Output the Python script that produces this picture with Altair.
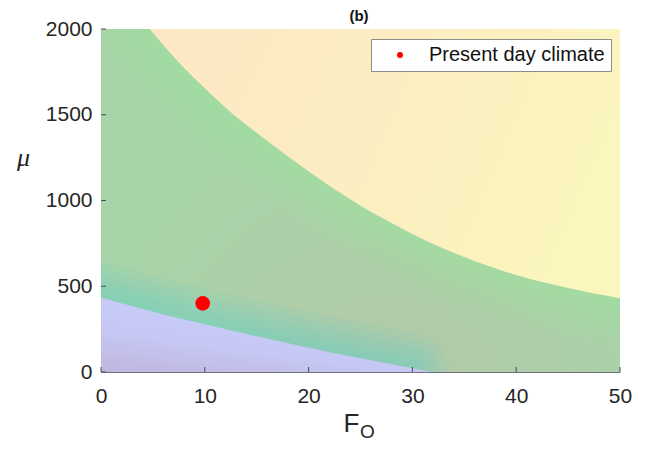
import altair as alt
import pandas as pd

# ---- data ----
x_ticks = [0, 10, 20, 30, 40, 50]
y_ticks = [0, 500, 1000, 1500, 2000]
F_range = [0, 50]
mu_range = [0, 2000]

# upper boundary (green / yellow)
upper_F = [4.7, 7.5, 10, 12.5, 15, 17.5, 20, 22.5, 25, 27.5, 30, 35, 40, 45, 50]
upper_mu = [2000, 1805, 1655, 1515, 1395, 1280, 1170, 1065, 970, 885, 805, 670, 565, 490, 430]

# lower boundary (blue / green)
lower_F = [0, 5, 10, 15, 20, 25, 30, 31.8]
lower_mu = [434, 352, 278, 208, 142, 80, 22, 0]

# present-day climate point
point_F = [9.8]
point_mu = [400]
point_label = ["Present day climate"]

FONT = "Liberation Sans"

xs = alt.Scale(domain=F_range, nice=False, zero=False)
ys = alt.Scale(domain=mu_range, nice=False, zero=False)

bg = pd.DataFrame({"x0": [F_range[0]], "x1": [F_range[1]], "y0": [mu_range[0]], "y1": [mu_range[1]]})
up = pd.DataFrame({"F": upper_F, "mu": upper_mu, "top": [mu_range[1]] * len(upper_F)})
lo = pd.DataFrame({"F": lower_F, "mu": lower_mu, "bot": [mu_range[0]] * len(lower_F)})
pt = pd.DataFrame({"F": point_F, "mu": point_mu, "label": point_label})
xt = pd.DataFrame({"t": x_ticks})
yt = pd.DataFrame({"t": y_ticks})
sub_txt = pd.DataFrame({"s": ["O"]})
ttl_txt = pd.DataFrame({"s": ["(b)"]})

green_grad = alt.Gradient(
    gradient="radial",
    stops=[
        alt.GradientStop(color="#b3c8a7", offset=0),
        alt.GradientStop(color="#afcda9", offset=0.45),
        alt.GradientStop(color="#aad2a9", offset=0.8),
        alt.GradientStop(color="#a7d4a8", offset=1),
    ],
    x1=0.55, y1=0.92, r1=0, x2=0.55, y2=0.92, r2=0.62,
)
yellow_grad = alt.Gradient(
    gradient="linear",
    stops=[
        alt.GradientStop(color="#fde7c4", offset=0),
        alt.GradientStop(color="#fcedc2", offset=0.5),
        alt.GradientStop(color="#fbf5be", offset=1),
    ],
    x1=0, y1=0, x2=1, y2=0.25,
)
blue_grad = alt.Gradient(
    gradient="linear",
    stops=[
        alt.GradientStop(color="#c9cdfa", offset=0),
        alt.GradientStop(color="#c6c7f4", offset=0.6),
        alt.GradientStop(color="#bfb6dc", offset=1),
    ],
    x1=0.6, y1=0, x2=0, y2=1,
)

x_axis = alt.Axis(
    values=x_ticks, format="d", ticks=False, grid=False, labelFontSize=21, labelFont=FONT,
    labelColor="#262626", labelPadding=13, domainColor="#6f6f80", domainWidth=1,
    title="F", titleFont=FONT, titleFontSize=26, titleFontWeight="normal",
    titleColor="#262626", titleAlign="left", titleBaseline="alphabetic",
    titleX=242, titleY=59, labelFlush=False,
)
y_axis = alt.Axis(
    values=y_ticks, format="d", ticks=False, grid=False, labelFontSize=21, labelFont=FONT,
    labelColor="#262626", labelPadding=9, domainColor="#8a8a8a", domainWidth=1,
    title="μ", titleFont="Liberation Serif", titleFontSize=26, titleFontStyle="italic",
    titleFontWeight="normal", titleColor="#262626", titleAngle=0,
    titleAlign="center", titleBaseline="alphabetic", titleX=-78, titleY=136,
    labelFlush=False,
)

green = alt.Chart(bg).mark_rect(color=green_grad).encode(
    x=alt.X("x0:Q", scale=xs, axis=x_axis), x2="x1:Q",
    y=alt.Y("y0:Q", scale=ys, axis=y_axis), y2="y1:Q",
)

# bright green glow just below the upper boundary
up_glows = []
for w in [90, 66, 46, 28, 14]:
    up_glows.append(
        alt.Chart(up).mark_line(color="#9ee29e", strokeWidth=w, opacity=0.17, clip=True,
                                strokeCap="round", interpolate="monotone").encode(
            x=alt.X("F:Q", scale=xs), y=alt.Y("mu:Q", scale=ys)
        )
    )

# teal glow just above the lower boundary (its end is hidden under the blue area)
lo_glows = []
for w in [70, 56, 44, 34, 24, 16, 9]:
    lo_glows.append(
        alt.Chart(lo).transform_filter("datum.F <= 30").mark_line(
            color="#7fd0bd", strokeWidth=w, opacity=0.17, clip=True,
            strokeCap="round", interpolate="monotone").encode(
            x=alt.X("F:Q", scale=xs), y=alt.Y("mu:Q", scale=ys)
        )
    )

yellow = alt.Chart(up).mark_area(color=yellow_grad, clip=True, interpolate="monotone").encode(
    x=alt.X("F:Q", scale=xs), y=alt.Y("mu:Q", scale=ys), y2="top:Q"
)
blue = alt.Chart(lo).mark_area(color=blue_grad, clip=True, interpolate="monotone").encode(
    x=alt.X("F:Q", scale=xs), y=alt.Y("mu:Q", scale=ys), y2="bot:Q"
)

xticks = alt.Chart(xt).mark_rule(color="#4a4a5a", strokeWidth=1).encode(
    x=alt.X("t:Q", scale=xs), y=alt.value(343), y2=alt.value(338)
)
yticks = alt.Chart(yt).mark_rule(color="#4a4a5a", strokeWidth=1).encode(
    y=alt.Y("t:Q", scale=ys), x=alt.value(0), x2=alt.value(5)
)

point = alt.Chart(pt).mark_circle(size=215, opacity=1).encode(
    x=alt.X("F:Q", scale=xs), y=alt.Y("mu:Q", scale=ys),
    color=alt.Color(
        "label:N",
        scale=alt.Scale(domain=point_label, range=["#ff0000"]),
        legend=alt.Legend(
            title=None, orient="none", legendX=270, legendY=10,
            fillColor="#ffffff", strokeColor="#8c8c8c", padding=6,
            labelFont=FONT, labelFontSize=20, labelColor="#111111", labelLimit=0,
            symbolType="circle", symbolSize=36, symbolOffset=13,
            labelOffset=19, symbolStrokeWidth=0, cornerRadius=0,
        ),
    ),
)

sub = alt.Chart(sub_txt).mark_text(
    font=FONT, fontSize=19, color="#262626", align="left", baseline="alphabetic"
).encode(text="s:N", x=alt.value(259), y=alt.value(409))

ttl = alt.Chart(ttl_txt).mark_text(
    font=FONT, fontSize=15, fontWeight="bold", color="#111111", align="center",
    baseline="alphabetic"
).encode(text="s:N", x=alt.value(258), y=alt.value(-8))

chart = alt.layer(green, *up_glows, *lo_glows, yellow, blue, xticks, yticks, point, sub, ttl).properties(
    width=519, height=343,
    autosize=alt.AutoSizeParams(type="none"),
    padding={"left": 93, "top": 21, "right": 20, "bottom": 69},
).configure_view(stroke=None)

chart.save("out.html", embed_options={"renderer": "svg", "actions": False})
